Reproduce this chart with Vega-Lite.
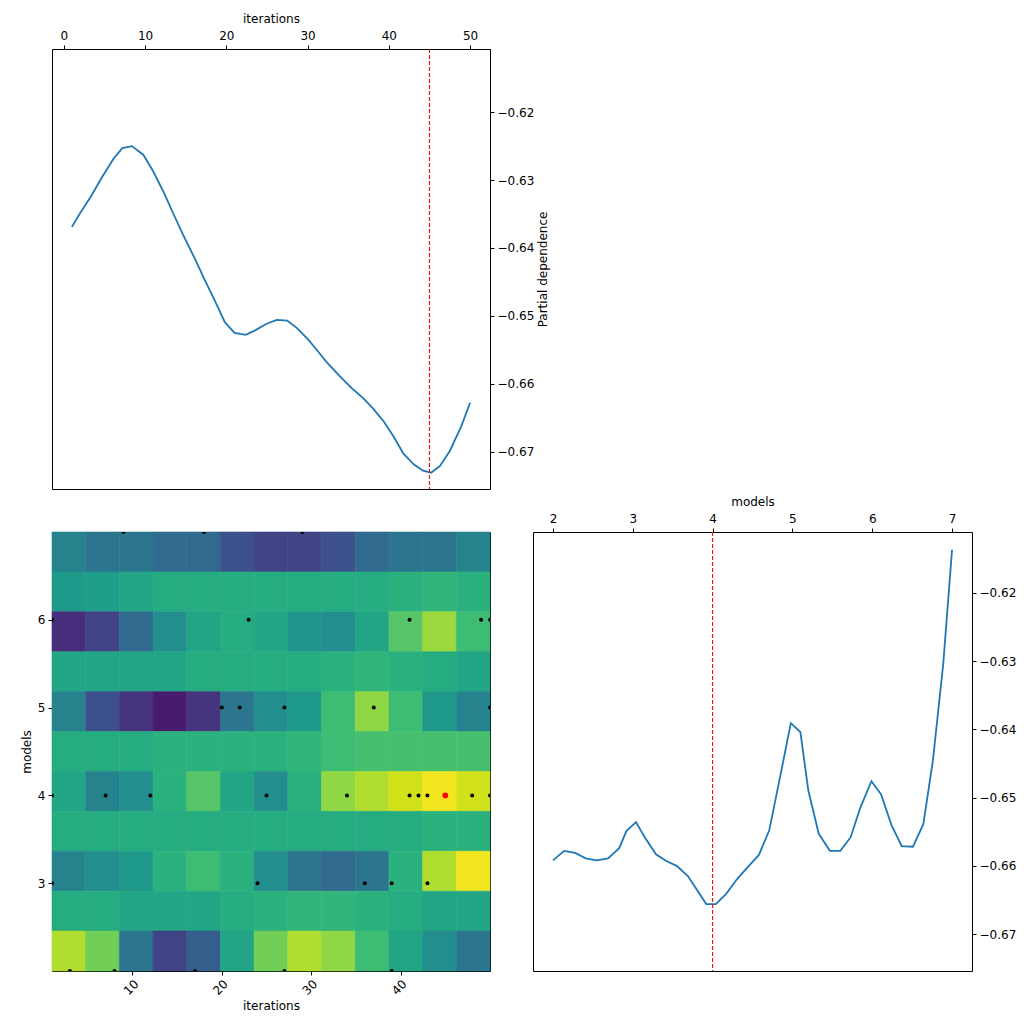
{
  "$schema": "https://vega.github.io/schema/vega-lite/v6.json",
  "background": "white",
  "padding": {"left": 19, "top": 11, "right": 5, "bottom": 5},
  "datasets": {
    "pd_iter": [
      {"iterations": 1.0, "pd": -0.6369}, {"iterations": 2.0, "pd": -0.6349}, {"iterations": 3.3, "pd": -0.6325},
      {"iterations": 4.7, "pd": -0.6296}, {"iterations": 6.1, "pd": -0.6269}, {"iterations": 7.2, "pd": -0.6253},
      {"iterations": 8.4, "pd": -0.6250}, {"iterations": 9.8, "pd": -0.6263}, {"iterations": 11.0, "pd": -0.6287},
      {"iterations": 12.3, "pd": -0.6318}, {"iterations": 13.5, "pd": -0.6350}, {"iterations": 14.7, "pd": -0.6381},
      {"iterations": 16.1, "pd": -0.6415}, {"iterations": 17.3, "pd": -0.6446}, {"iterations": 18.6, "pd": -0.6478},
      {"iterations": 19.8, "pd": -0.6509}, {"iterations": 21.0, "pd": -0.6525}, {"iterations": 22.4, "pd": -0.6528},
      {"iterations": 23.6, "pd": -0.6521}, {"iterations": 24.9, "pd": -0.6512}, {"iterations": 26.2, "pd": -0.6506},
      {"iterations": 27.5, "pd": -0.6507}, {"iterations": 28.7, "pd": -0.6518}, {"iterations": 30.0, "pd": -0.6534},
      {"iterations": 31.2, "pd": -0.6551}, {"iterations": 32.4, "pd": -0.6569}, {"iterations": 33.9, "pd": -0.6588},
      {"iterations": 35.4, "pd": -0.6606}, {"iterations": 36.9, "pd": -0.6622}, {"iterations": 38.1, "pd": -0.6637},
      {"iterations": 39.4, "pd": -0.6656}, {"iterations": 40.6, "pd": -0.6678}, {"iterations": 41.8, "pd": -0.6703},
      {"iterations": 43.1, "pd": -0.6719}, {"iterations": 44.2, "pd": -0.6728}, {"iterations": 45.2, "pd": -0.6731},
      {"iterations": 46.3, "pd": -0.6721}, {"iterations": 47.5, "pd": -0.6699}, {"iterations": 48.9, "pd": -0.6663},
      {"iterations": 50.0, "pd": -0.6628}
    ],
    "pd_models": [
      {"models": 2.0, "pd": -0.6592}, {"models": 2.14, "pd": -0.6578}, {"models": 2.28, "pd": -0.6581},
      {"models": 2.41, "pd": -0.6589}, {"models": 2.55, "pd": -0.6592}, {"models": 2.69, "pd": -0.6589},
      {"models": 2.83, "pd": -0.6574}, {"models": 2.92, "pd": -0.6549}, {"models": 3.04, "pd": -0.6536},
      {"models": 3.15, "pd": -0.6558}, {"models": 3.29, "pd": -0.6583}, {"models": 3.42, "pd": -0.6593},
      {"models": 3.55, "pd": -0.6600}, {"models": 3.69, "pd": -0.6615}, {"models": 3.82, "pd": -0.6638},
      {"models": 3.92, "pd": -0.6656}, {"models": 4.04, "pd": -0.6656}, {"models": 4.17, "pd": -0.6641},
      {"models": 4.31, "pd": -0.6619}, {"models": 4.44, "pd": -0.6602}, {"models": 4.58, "pd": -0.6584},
      {"models": 4.71, "pd": -0.6548}, {"models": 4.84, "pd": -0.6473}, {"models": 4.98, "pd": -0.6391},
      {"models": 5.10, "pd": -0.6404}, {"models": 5.20, "pd": -0.6490}, {"models": 5.33, "pd": -0.6553},
      {"models": 5.47, "pd": -0.6578}, {"models": 5.60, "pd": -0.6578}, {"models": 5.73, "pd": -0.6558},
      {"models": 5.85, "pd": -0.6515}, {"models": 5.99, "pd": -0.6476}, {"models": 6.11, "pd": -0.6495},
      {"models": 6.24, "pd": -0.6540}, {"models": 6.37, "pd": -0.6571}, {"models": 6.51, "pd": -0.6572},
      {"models": 6.64, "pd": -0.6539}, {"models": 6.76, "pd": -0.6446}, {"models": 6.89, "pd": -0.6304},
      {"models": 7.0, "pd": -0.6137}
    ],
    "samples": [
      {"iterations": 9, "models": 7, "best": "no"}, {"iterations": 18, "models": 7, "best": "no"}, {"iterations": 29, "models": 7, "best": "no"},
      {"iterations": 23, "models": 6, "best": "no"}, {"iterations": 41, "models": 6, "best": "no"}, {"iterations": 49, "models": 6, "best": "no"}, {"iterations": 50, "models": 6, "best": "no"},
      {"iterations": 20, "models": 5, "best": "no"}, {"iterations": 22, "models": 5, "best": "no"}, {"iterations": 27, "models": 5, "best": "no"}, {"iterations": 37, "models": 5, "best": "no"}, {"iterations": 50, "models": 5, "best": "no"},
      {"iterations": 1, "models": 4, "best": "no"}, {"iterations": 7, "models": 4, "best": "no"}, {"iterations": 12, "models": 4, "best": "no"}, {"iterations": 25, "models": 4, "best": "no"}, {"iterations": 34, "models": 4, "best": "no"},
      {"iterations": 41, "models": 4, "best": "no"}, {"iterations": 42, "models": 4, "best": "no"}, {"iterations": 43, "models": 4, "best": "no"}, {"iterations": 48, "models": 4, "best": "no"}, {"iterations": 50, "models": 4, "best": "no"},
      {"iterations": 24, "models": 3, "best": "no"}, {"iterations": 36, "models": 3, "best": "no"}, {"iterations": 39, "models": 3, "best": "no"}, {"iterations": 43, "models": 3, "best": "no"}, {"iterations": 1, "models": 3, "best": "no"},
      {"iterations": 1, "models": 6, "best": "no"},
      {"iterations": 3, "models": 2, "best": "no"}, {"iterations": 8, "models": 2, "best": "no"}, {"iterations": 17, "models": 2, "best": "no"}, {"iterations": 27, "models": 2, "best": "no"}, {"iterations": 39, "models": 2, "best": "no"},
      {"iterations": 45, "models": 4, "best": "yes"}
    ],
    "grid": [
      {"x": 1, "y": 7, "v": 0.4}, {"x": 5, "y": 7, "v": 0.35}, {"x": 9, "y": 7, "v": 0.35}, {"x": 13, "y": 7, "v": 0.3}, {"x": 17, "y": 7, "v": 0.3}, {"x": 21, "y": 7, "v": 0.2}, {"x": 25, "y": 7, "v": 0.15}, {"x": 29, "y": 7, "v": 0.15}, {"x": 33, "y": 7, "v": 0.2}, {"x": 37, "y": 7, "v": 0.3}, {"x": 41, "y": 7, "v": 0.35}, {"x": 45, "y": 7, "v": 0.35}, {"x": 49, "y": 7, "v": 0.4},
      {"x": 1, "y": 6.5, "v": 0.5}, {"x": 5, "y": 6.5, "v": 0.52}, {"x": 9, "y": 6.5, "v": 0.55}, {"x": 13, "y": 6.5, "v": 0.58}, {"x": 17, "y": 6.5, "v": 0.58}, {"x": 21, "y": 6.5, "v": 0.58}, {"x": 25, "y": 6.5, "v": 0.58}, {"x": 29, "y": 6.5, "v": 0.58}, {"x": 33, "y": 6.5, "v": 0.58}, {"x": 37, "y": 6.5, "v": 0.58}, {"x": 41, "y": 6.5, "v": 0.6}, {"x": 45, "y": 6.5, "v": 0.62}, {"x": 49, "y": 6.5, "v": 0.6},
      {"x": 1, "y": 6, "v": 0.08}, {"x": 5, "y": 6, "v": 0.15}, {"x": 9, "y": 6, "v": 0.3}, {"x": 13, "y": 6, "v": 0.45}, {"x": 17, "y": 6, "v": 0.55}, {"x": 21, "y": 6, "v": 0.58}, {"x": 25, "y": 6, "v": 0.55}, {"x": 29, "y": 6, "v": 0.48}, {"x": 33, "y": 6, "v": 0.45}, {"x": 37, "y": 6, "v": 0.55}, {"x": 41, "y": 6, "v": 0.7}, {"x": 45, "y": 6, "v": 0.82}, {"x": 49, "y": 6, "v": 0.65},
      {"x": 1, "y": 5.5, "v": 0.55}, {"x": 5, "y": 5.5, "v": 0.55}, {"x": 9, "y": 5.5, "v": 0.55}, {"x": 13, "y": 5.5, "v": 0.55}, {"x": 17, "y": 5.5, "v": 0.58}, {"x": 21, "y": 5.5, "v": 0.58}, {"x": 25, "y": 5.5, "v": 0.58}, {"x": 29, "y": 5.5, "v": 0.58}, {"x": 33, "y": 5.5, "v": 0.6}, {"x": 37, "y": 5.5, "v": 0.62}, {"x": 41, "y": 5.5, "v": 0.6}, {"x": 45, "y": 5.5, "v": 0.58}, {"x": 49, "y": 5.5, "v": 0.55},
      {"x": 1, "y": 5, "v": 0.4}, {"x": 5, "y": 5, "v": 0.2}, {"x": 9, "y": 5, "v": 0.1}, {"x": 13, "y": 5, "v": 0.02}, {"x": 17, "y": 5, "v": 0.1}, {"x": 21, "y": 5, "v": 0.35}, {"x": 25, "y": 5, "v": 0.45}, {"x": 29, "y": 5, "v": 0.5}, {"x": 33, "y": 5, "v": 0.65}, {"x": 37, "y": 5, "v": 0.8}, {"x": 41, "y": 5, "v": 0.65}, {"x": 45, "y": 5, "v": 0.5}, {"x": 49, "y": 5, "v": 0.4},
      {"x": 1, "y": 4.5, "v": 0.58}, {"x": 5, "y": 4.5, "v": 0.58}, {"x": 9, "y": 4.5, "v": 0.58}, {"x": 13, "y": 4.5, "v": 0.6}, {"x": 17, "y": 4.5, "v": 0.6}, {"x": 21, "y": 4.5, "v": 0.6}, {"x": 25, "y": 4.5, "v": 0.6}, {"x": 29, "y": 4.5, "v": 0.62}, {"x": 33, "y": 4.5, "v": 0.65}, {"x": 37, "y": 4.5, "v": 0.67}, {"x": 41, "y": 4.5, "v": 0.67}, {"x": 45, "y": 4.5, "v": 0.67}, {"x": 49, "y": 4.5, "v": 0.67},
      {"x": 1, "y": 4, "v": 0.55}, {"x": 5, "y": 4, "v": 0.4}, {"x": 9, "y": 4, "v": 0.45}, {"x": 13, "y": 4, "v": 0.6}, {"x": 17, "y": 4, "v": 0.7}, {"x": 21, "y": 4, "v": 0.55}, {"x": 25, "y": 4, "v": 0.45}, {"x": 29, "y": 4, "v": 0.6}, {"x": 33, "y": 4, "v": 0.8}, {"x": 37, "y": 4, "v": 0.85}, {"x": 41, "y": 4, "v": 0.9}, {"x": 45, "y": 4, "v": 0.95}, {"x": 49, "y": 4, "v": 0.9},
      {"x": 1, "y": 3.5, "v": 0.58}, {"x": 5, "y": 3.5, "v": 0.58}, {"x": 9, "y": 3.5, "v": 0.58}, {"x": 13, "y": 3.5, "v": 0.58}, {"x": 17, "y": 3.5, "v": 0.58}, {"x": 21, "y": 3.5, "v": 0.58}, {"x": 25, "y": 3.5, "v": 0.58}, {"x": 29, "y": 3.5, "v": 0.58}, {"x": 33, "y": 3.5, "v": 0.58}, {"x": 37, "y": 3.5, "v": 0.58}, {"x": 41, "y": 3.5, "v": 0.58}, {"x": 45, "y": 3.5, "v": 0.6}, {"x": 49, "y": 3.5, "v": 0.6},
      {"x": 1, "y": 3, "v": 0.4}, {"x": 5, "y": 3, "v": 0.45}, {"x": 9, "y": 3, "v": 0.5}, {"x": 13, "y": 3, "v": 0.6}, {"x": 17, "y": 3, "v": 0.65}, {"x": 21, "y": 3, "v": 0.6}, {"x": 25, "y": 3, "v": 0.45}, {"x": 29, "y": 3, "v": 0.35}, {"x": 33, "y": 3, "v": 0.3}, {"x": 37, "y": 3, "v": 0.35}, {"x": 41, "y": 3, "v": 0.6}, {"x": 45, "y": 3, "v": 0.85}, {"x": 49, "y": 3, "v": 0.95},
      {"x": 1, "y": 2.5, "v": 0.58}, {"x": 5, "y": 2.5, "v": 0.58}, {"x": 9, "y": 2.5, "v": 0.55}, {"x": 13, "y": 2.5, "v": 0.55}, {"x": 17, "y": 2.5, "v": 0.55}, {"x": 21, "y": 2.5, "v": 0.58}, {"x": 25, "y": 2.5, "v": 0.6}, {"x": 29, "y": 2.5, "v": 0.62}, {"x": 33, "y": 2.5, "v": 0.62}, {"x": 37, "y": 2.5, "v": 0.6}, {"x": 41, "y": 2.5, "v": 0.58}, {"x": 45, "y": 2.5, "v": 0.55}, {"x": 49, "y": 2.5, "v": 0.55},
      {"x": 1, "y": 2, "v": 0.85}, {"x": 5, "y": 2, "v": 0.75}, {"x": 9, "y": 2, "v": 0.35}, {"x": 13, "y": 2, "v": 0.15}, {"x": 17, "y": 2, "v": 0.25}, {"x": 21, "y": 2, "v": 0.55}, {"x": 25, "y": 2, "v": 0.75}, {"x": 29, "y": 2, "v": 0.85}, {"x": 33, "y": 2, "v": 0.8}, {"x": 37, "y": 2, "v": 0.65}, {"x": 41, "y": 2, "v": 0.55}, {"x": 45, "y": 2, "v": 0.45}, {"x": 49, "y": 2, "v": 0.35}
    ]
  },
  "spacing": 43,
  "bounds": "flush",
  "vconcat": [
    {
      "width": 438,
      "height": 440,
      "layer": [
        {
          "data": {"name": "pd_iter"},
          "mark": {"type": "line", "color": "#1f77b4", "strokeWidth": 1.8},
          "encoding": {
            "x": {"field": "iterations", "type": "quantitative", "scale": {"domain": [-1.45, 52.45], "nice": false, "zero": false},
                  "axis": {"orient": "top", "values": [0, 10, 20, 30, 40, 50], "title": "iterations"}},
            "y": {"field": "pd", "type": "quantitative", "scale": {"domain": [-0.6755, -0.6107], "nice": false, "zero": false},
                  "axis": {"orient": "right", "values": [-0.62, -0.63, -0.64, -0.65, -0.66, -0.67], "format": ".2f", "title": "Partial dependence", "titleAngle": 270, "titleBaseline": "top", "titlePadding": 4}}
          }
        },
        {
          "data": {"values": [{"iterations": 45}]},
          "mark": {"type": "rule", "color": "#e41a1c", "strokeDash": [4, 2], "strokeWidth": 1.2},
          "encoding": {"x": {"field": "iterations", "type": "quantitative"}}
        }
      ]
    },
    {
      "spacing": 43,
      "bounds": "flush",
      "hconcat": [
        {
          "width": 438,
          "height": 439,
          "layer": [
            {
              "data": {"name": "grid"},
              "mark": {"type": "rect", "strokeWidth": 0.6},
              "encoding": {
                "x": {"field": "x", "type": "ordinal", "scale": {"paddingInner": 0, "paddingOuter": 0}, "axis": null},
                "y": {"field": "y", "type": "ordinal", "sort": "descending", "scale": {"paddingInner": 0, "paddingOuter": 0}, "axis": null},
                "color": {"field": "v", "type": "quantitative", "scale": {"scheme": "viridis", "domain": [-0.05, 0.97]}, "legend": null},
                "stroke": {"field": "v", "type": "quantitative", "scale": {"scheme": "viridis", "domain": [-0.05, 0.97]}, "legend": null}
              }
            },
            {
              "data": {"name": "samples"},
              "mark": {"type": "point", "filled": true, "opacity": 1, "clip": true, "strokeWidth": 0},
              "encoding": {
                "x": {"field": "iterations", "type": "quantitative", "scale": {"domain": [1, 50], "nice": false, "zero": false},
                      "axis": {"values": [10, 20, 30, 40], "labelAngle": -45, "title": "iterations"}},
                "y": {"field": "models", "type": "quantitative", "scale": {"domain": [2, 7], "nice": false, "zero": false},
                      "axis": {"values": [3, 4, 5, 6], "title": "models"}},
                "color": {"field": "best", "type": "nominal", "scale": {"domain": ["no", "yes"], "range": ["black", "red"]}, "legend": null},
                "size": {"field": "best", "type": "nominal", "scale": {"domain": ["no", "yes"], "range": [16, 32]}, "legend": null}
              }
            }
          ],
          "resolve": {"scale": {"x": "independent", "y": "independent", "color": "independent", "stroke": "independent"}}
        },
        {
          "width": 439,
          "height": 439,
          "layer": [
            {
              "data": {"name": "pd_models"},
              "mark": {"type": "line", "color": "#1f77b4", "strokeWidth": 1.8},
              "encoding": {
                "x": {"field": "models", "type": "quantitative", "scale": {"domain": [1.75, 7.25], "nice": false, "zero": false},
                      "axis": {"orient": "top", "values": [2, 3, 4, 5, 6, 7], "format": "d", "title": "models"}},
                "y": {"field": "pd", "type": "quantitative", "scale": {"domain": [-0.6754, -0.6111], "nice": false, "zero": false},
                      "axis": {"orient": "right", "values": [-0.62, -0.63, -0.64, -0.65, -0.66, -0.67], "format": ".2f", "title": null}}
              }
            },
            {
              "data": {"values": [{"models": 4}]},
              "mark": {"type": "rule", "color": "#e41a1c", "strokeDash": [4, 2], "strokeWidth": 1.2},
              "encoding": {"x": {"field": "models", "type": "quantitative"}}
            }
          ]
        }
      ]
    }
  ],
  "config": {
    "font": "DejaVu Sans",
    "view": {"stroke": "black", "strokeWidth": 1},
    "axis": {
      "grid": false,
      "domain": false,
      "tickColor": "black",
      "tickSize": 4,
      "labelFontSize": 12,
      "labelColor": "black",
      "titleFontSize": 12,
      "titleFontWeight": "normal",
      "titleColor": "black",
      "labelPadding": 3
    }
  }
}
